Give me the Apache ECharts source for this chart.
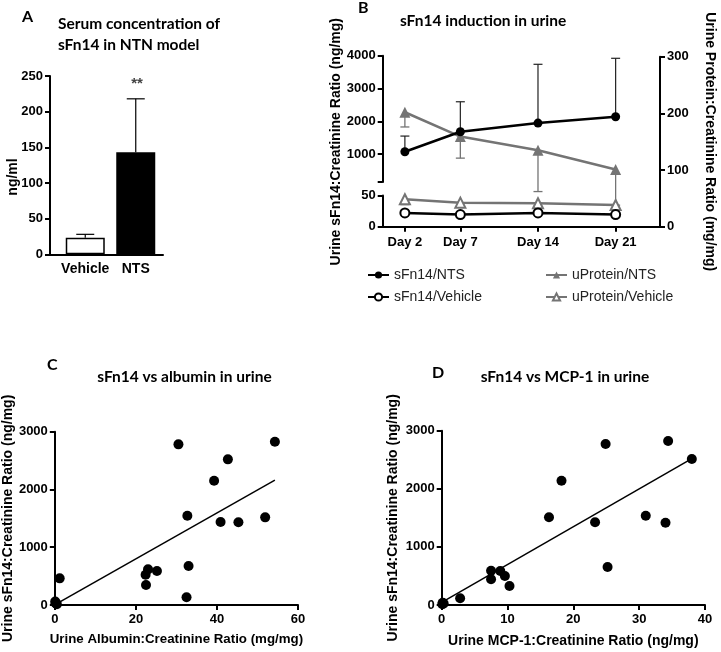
<!DOCTYPE html>
<html><head><meta charset="utf-8">
<script src="https://cdn.jsdelivr.net/npm/echarts@6/dist/echarts.min.js"></script>
<style>html,body{margin:0;padding:0;background:#fff}#c{width:721px;height:652px}</style>
</head><body><div id="c"></div>
<script>
// ---- Panel A data ----
const serumGroups = ['Vehicle', 'NTS'];
const serumMean = [23.3, 143];
const serumUpper = [28, 218];
// ---- Panel B data ----
const days = [2, 7, 14, 21];
const sFn14NTS = [1071, 1681, 1946, 2139];
const sFn14NTSUpper = [1550, 2596, 3738, 3921];
const sFn14Vehicle = [21.8, 19.2, 21.8, 19.2];
const uProteinNTS = [202, 159, 135, 101];
const uProteinNTSLower = [176, 121, 62, 38];
const uProteinVehicle = [48.4, 42.4, 41.3, 38.3];
const uProteinVehicleLower = [39, null, null, null];
const bUpperTicks = [1000, 2000, 3000, 4000];
// ---- Panel C data ----
const albuminX = [30.5, 54.3, 42.7, 39.3, 32.7, 40.9, 45.3, 51.9, 33.0, 32.5, 22.4, 23.0, 25.2, 22.5, 1.2, 0.1, 0.5, 0.2];
const albuminY = [2781, 2827, 2521, 2152, 1546, 1437, 1431, 1517, 675, 133, 525, 617, 588, 346, 461, 60, 15, 30];
const albuminFitX = [0.5, 54.3];
const albuminFitY = [25, 2163];
// ---- Panel D data ----
const mcpX = [24.9, 34.4, 38.0, 18.2, 16.3, 23.3, 31.0, 34.0, 25.2, 2.8, 7.5, 8.9, 7.5, 9.6, 10.3, 0.15, 0.1, 0.3];
const mcpY = [2771, 2822, 2513, 2140, 1509, 1423, 1537, 1417, 654, 115, 591, 585, 442, 499, 327, 40, 15, 25];
const mcpFitX = [0, 38];
const mcpFitY = [45, 2520];

const GRAY = '#747474';
const AX = 'Arial';
const TT = 'Lato';
const zip = (a, b) => a.map((v, i) => [v, b[i]]);
const plain = v => String(v);

function errBar(color, capHalf, lw) {
  return function (params, api) {
    const up = api.value(2);
    if (up === null || up === undefined || isNaN(up)) return null;
    const p0 = api.coord([api.value(0), api.value(1)]);
    const p1 = api.coord([api.value(0), up]);
    const st = { stroke: color, lineWidth: lw };
    return { type: 'group', children: [
      { type: 'line', shape: { x1: p0[0], y1: p0[1], x2: p1[0], y2: p1[1] }, style: st },
      { type: 'line', shape: { x1: p1[0] - capHalf, y1: p1[1], x2: p1[0] + capHalf, y2: p1[1] }, style: st }
    ]};
  };
}

const axLine = { show: true, lineStyle: { color: '#000', width: 2 } };
const axTick = { show: true, length: 5, lineStyle: { color: '#000', width: 2 } };
const axLab = (sz) => ({ color: '#000', fontFamily: AX, fontWeight: 'bold', fontSize: sz, formatter: plain });
const nameSt = (sz) => ({ color: '#000', fontFamily: AX, fontWeight: 'bold', fontSize: sz });

const chart = echarts.init(document.getElementById('c'), null, { renderer: 'canvas' });
const option = {
  animation: false,
  backgroundColor: '#fff',
  grid: [
    { left: 50, top: 76, width: 113, height: 178.3 },      // 0 A axes
    { left: 60, top: 76, width: 101, height: 178.3 },      // 1 A bars
    { left: 382.7, top: 56.7, width: 277.3, height: 170 }, // 2 B main
    { left: 382.7, top: 55.7, width: 277.3, height: 126.3 }, // 3 B upper
    { left: 382.7, top: 195.5, width: 277.3, height: 30.9 }, // 4 B lower
    { left: 54.5, top: 431.7, width: 243.5, height: 173.3 }, // 5 C
    { left: 441.7, top: 430.7, width: 263.3, height: 174.3 } // 6 D
  ],
  xAxis: [
    { gridIndex: 0, type: 'value', min: 0, max: 1, axisLine: axLine, axisTick: { show: false }, axisLabel: { show: false }, splitLine: { show: false } },
    { gridIndex: 1, type: 'category', data: serumGroups, axisLine: { show: false }, axisTick: { show: false },
      axisLabel: { color: '#000', fontFamily: AX, fontWeight: 'bold', fontSize: 14, margin: 8, interval: 0, hideOverlap: false } },
    { gridIndex: 2, type: 'value', min: 0, max: 25, axisLine: axLine, splitLine: { show: false },
      axisTick: Object.assign({}, axTick, { customValues: days }),
      axisLabel: Object.assign(axLab(13), { customValues: days, margin: 9, formatter: v => 'Day ' + v }) },
    { gridIndex: 3, type: 'value', min: 0, max: 25, show: false },
    { gridIndex: 4, type: 'value', min: 0, max: 25, show: false },
    { gridIndex: 5, type: 'value', min: 0, max: 60, interval: 20, axisLine: axLine, axisTick: axTick, splitLine: { show: false },
      axisLabel: Object.assign(axLab(13), { margin: 8 }),
      name: 'Urine Albumin:Creatinine Ratio (mg/mg)', nameLocation: 'middle', nameGap: 28, nameTextStyle: nameSt(13.3) },
    { gridIndex: 6, type: 'value', min: 0, max: 40, interval: 10, axisLine: axLine, axisTick: axTick, splitLine: { show: false },
      axisLabel: Object.assign(axLab(13), { margin: 8 }),
      name: 'Urine MCP-1:Creatinine Ratio (ng/mg)', nameLocation: 'middle', nameGap: 29, nameTextStyle: nameSt(14) }
  ],
  yAxis: [
    { gridIndex: 0, type: 'value', min: 0, max: 250, interval: 50, axisLine: axLine, axisTick: axTick, splitLine: { show: false },
      axisLabel: Object.assign(axLab(13), { margin: 7 }) },
    { gridIndex: 1, type: 'value', min: 0, max: 250, show: false },
    { gridIndex: 2, type: 'value', position: 'left', min: 0, max: 1, axisLine: { show: false }, axisTick: { show: false }, axisLabel: { show: false }, splitLine: { show: false },
      name: 'Urine sFn14:Creatinine Ratio (ng/mg)', nameLocation: 'middle', nameGap: 40, nameTextStyle: nameSt(14) },
    { gridIndex: 2, type: 'value', position: 'right', min: 0, max: 300, interval: 100, axisLine: axLine, axisTick: axTick, splitLine: { show: false },
      axisLabel: Object.assign(axLab(13), { margin: 7 }),
      name: 'Urine Protein:Creatinine Ratio (mg/mg)', nameLocation: 'middle', nameRotate: -90, nameGap: 43, nameTextStyle: nameSt(14) },
    { gridIndex: 3, type: 'value', min: 150, max: 4000, axisLine: axLine, splitLine: { show: false },
      axisTick: Object.assign({}, axTick, { customValues: [150].concat(bUpperTicks) }),
      axisLabel: Object.assign(axLab(13), { customValues: bUpperTicks, margin: 7 }) },
    { gridIndex: 4, type: 'value', min: 0, max: 50, interval: 50, axisLine: axLine, axisTick: axTick, splitLine: { show: false },
      axisLabel: Object.assign(axLab(13), { margin: 7 }) },
    { gridIndex: 5, type: 'value', min: 0, max: 3000, interval: 1000, axisLine: axLine, axisTick: axTick, splitLine: { show: false },
      axisLabel: Object.assign(axLab(13), { margin: 7 }),
      name: 'Urine sFn14:Creatinine Ratio (ng/mg)', nameLocation: 'middle', nameGap: 39, nameTextStyle: nameSt(14) },
    { gridIndex: 6, type: 'value', min: 0, max: 3000, interval: 1000, axisLine: axLine, axisTick: axTick, splitLine: { show: false },
      axisLabel: Object.assign(axLab(13), { margin: 7 }),
      name: 'Urine sFn14:Creatinine Ratio (ng/mg)', nameLocation: 'middle', nameGap: 42, nameTextStyle: nameSt(14) }
  ],
  legend: [
    { orient: 'vertical', left: 362, top: 263, itemWidth: 21, itemHeight: 9, itemGap: 8,
      textStyle: { color: '#222', fontFamily: AX, fontSize: 14 }, data: ['sFn14/NTS', 'sFn14/Vehicle'] },
    { orient: 'vertical', left: 540, top: 263, itemWidth: 21, itemHeight: 9, itemGap: 8,
      textStyle: { color: '#222', fontFamily: AX, fontSize: 14 }, data: ['uProtein/NTS', 'uProtein/Vehicle'] }
  ],
  series: [
    // Panel A
    { name: 'Serum', type: 'bar', xAxisIndex: 1, yAxisIndex: 1, barWidth: 39,
      data: serumMean.map((v, i) => ({ value: v, itemStyle: i === 0 ? { color: '#fff', borderColor: '#000', borderWidth: 1.5 } : { color: '#000' } })) },
    { type: 'custom', xAxisIndex: 1, yAxisIndex: 1, renderItem: errBar('#000', 9, 1.2), z: 3,
      data: serumMean.map((v, i) => [i, v, serumUpper[i]]) },
    // Panel B
    { type: 'custom', xAxisIndex: 2, yAxisIndex: 3, renderItem: errBar(GRAY, 4.5, 1.3), z: 2,
      data: days.map((d, i) => [d, uProteinNTS[i], uProteinNTSLower[i]]) },
    { type: 'custom', xAxisIndex: 2, yAxisIndex: 3, renderItem: errBar(GRAY, 4.5, 1.3), z: 2,
      data: days.map((d, i) => [d, uProteinVehicle[i], uProteinVehicleLower[i]]) },
    { name: 'uProtein/NTS', type: 'line', xAxisIndex: 2, yAxisIndex: 3, data: zip(days, uProteinNTS), z: 3,
      symbol: 'triangle', symbolSize: 11, lineStyle: { color: GRAY, width: 2.5 }, itemStyle: { color: GRAY } },
    { name: 'uProtein/Vehicle', type: 'line', xAxisIndex: 2, yAxisIndex: 3, data: zip(days, uProteinVehicle), z: 3,
      symbol: 'triangle', symbolSize: 10, lineStyle: { color: GRAY, width: 2.5 }, itemStyle: { color: '#fff', borderColor: GRAY, borderWidth: 2 } },
    { type: 'custom', xAxisIndex: 3, yAxisIndex: 4, renderItem: errBar('#222', 4.5, 1.2), z: 4,
      data: days.map((d, i) => [d, sFn14NTS[i], sFn14NTSUpper[i]]) },
    { name: 'sFn14/NTS', type: 'line', xAxisIndex: 3, yAxisIndex: 4, data: zip(days, sFn14NTS), z: 5,
      symbol: 'circle', symbolSize: 9, lineStyle: { color: '#000', width: 2.5 }, itemStyle: { color: '#000' } },
    { name: 'sFn14/Vehicle', type: 'line', xAxisIndex: 4, yAxisIndex: 5, data: zip(days, sFn14Vehicle), z: 5,
      symbol: 'circle', symbolSize: 9, lineStyle: { color: '#000', width: 2.5 }, itemStyle: { color: '#fff', borderColor: '#000', borderWidth: 2 } },
    // Panel C
    { type: 'scatter', xAxisIndex: 5, yAxisIndex: 6, data: zip(albuminX, albuminY), symbolSize: 10, itemStyle: { color: '#000', opacity: 1 } },
    { type: 'line', xAxisIndex: 5, yAxisIndex: 6, data: zip(albuminFitX, albuminFitY), symbol: 'none', lineStyle: { color: '#000', width: 1.5 } },
    // Panel D
    { type: 'scatter', xAxisIndex: 6, yAxisIndex: 7, data: zip(mcpX, mcpY), symbolSize: 10, itemStyle: { color: '#000', opacity: 1 } },
    { type: 'line', xAxisIndex: 6, yAxisIndex: 7, data: zip(mcpFitX, mcpFitY), symbol: 'none', lineStyle: { color: '#000', width: 1.5 } }
  ],
  graphic: [
    { type: 'text', left: 22, top: 9, style: { text: 'A', font: 'bold 16px ' + TT, fill: '#000' } },
    { type: 'text', left: 58, top: 16, style: { text: 'Serum concentration of', font: 'bold 15.5px ' + TT, fill: '#000' } },
    { type: 'text', left: 58, top: 37, style: { text: 'sFn14 in NTN model', font: 'bold 15.5px ' + TT, fill: '#000' } },
    { type: 'text', x: 13, y: 177, rotation: Math.PI / 2, style: { text: 'ng/ml', font: 'bold 14px ' + AX, fill: '#000', align: 'center', verticalAlign: 'middle' } },
    { type: 'text', x: 137, y: 84, style: { text: '**', font: 'bold 15px ' + AX, fill: '#444', align: 'center', verticalAlign: 'middle' } },
    { type: 'text', left: 358, top: 0, style: { text: 'B', font: 'bold 16px ' + TT, fill: '#000' } },
    { type: 'text', left: 400, top: 13, style: { text: 'sFn14 induction in urine', font: 'bold 15.5px ' + TT, fill: '#000' } },
    { type: 'text', left: 47, top: 357, style: { text: 'C', font: 'bold 16px ' + TT, fill: '#000' } },
    { type: 'text', x: 184.5, y: 377, style: { text: 'sFn14 vs albumin in urine', font: 'bold 15.5px ' + TT, fill: '#000', align: 'center', verticalAlign: 'middle' } },
    { type: 'text', left: 432, top: 365, style: { text: 'D', font: 'bold 16px ' + TT, fill: '#000' } },
    { type: 'text', x: 565, y: 377, style: { text: 'sFn14 vs MCP-1 in urine', font: 'bold 15.5px ' + TT, fill: '#000', align: 'center', verticalAlign: 'middle' } }
  ]
};
chart.setOption(option);
</script>
</body></html>
